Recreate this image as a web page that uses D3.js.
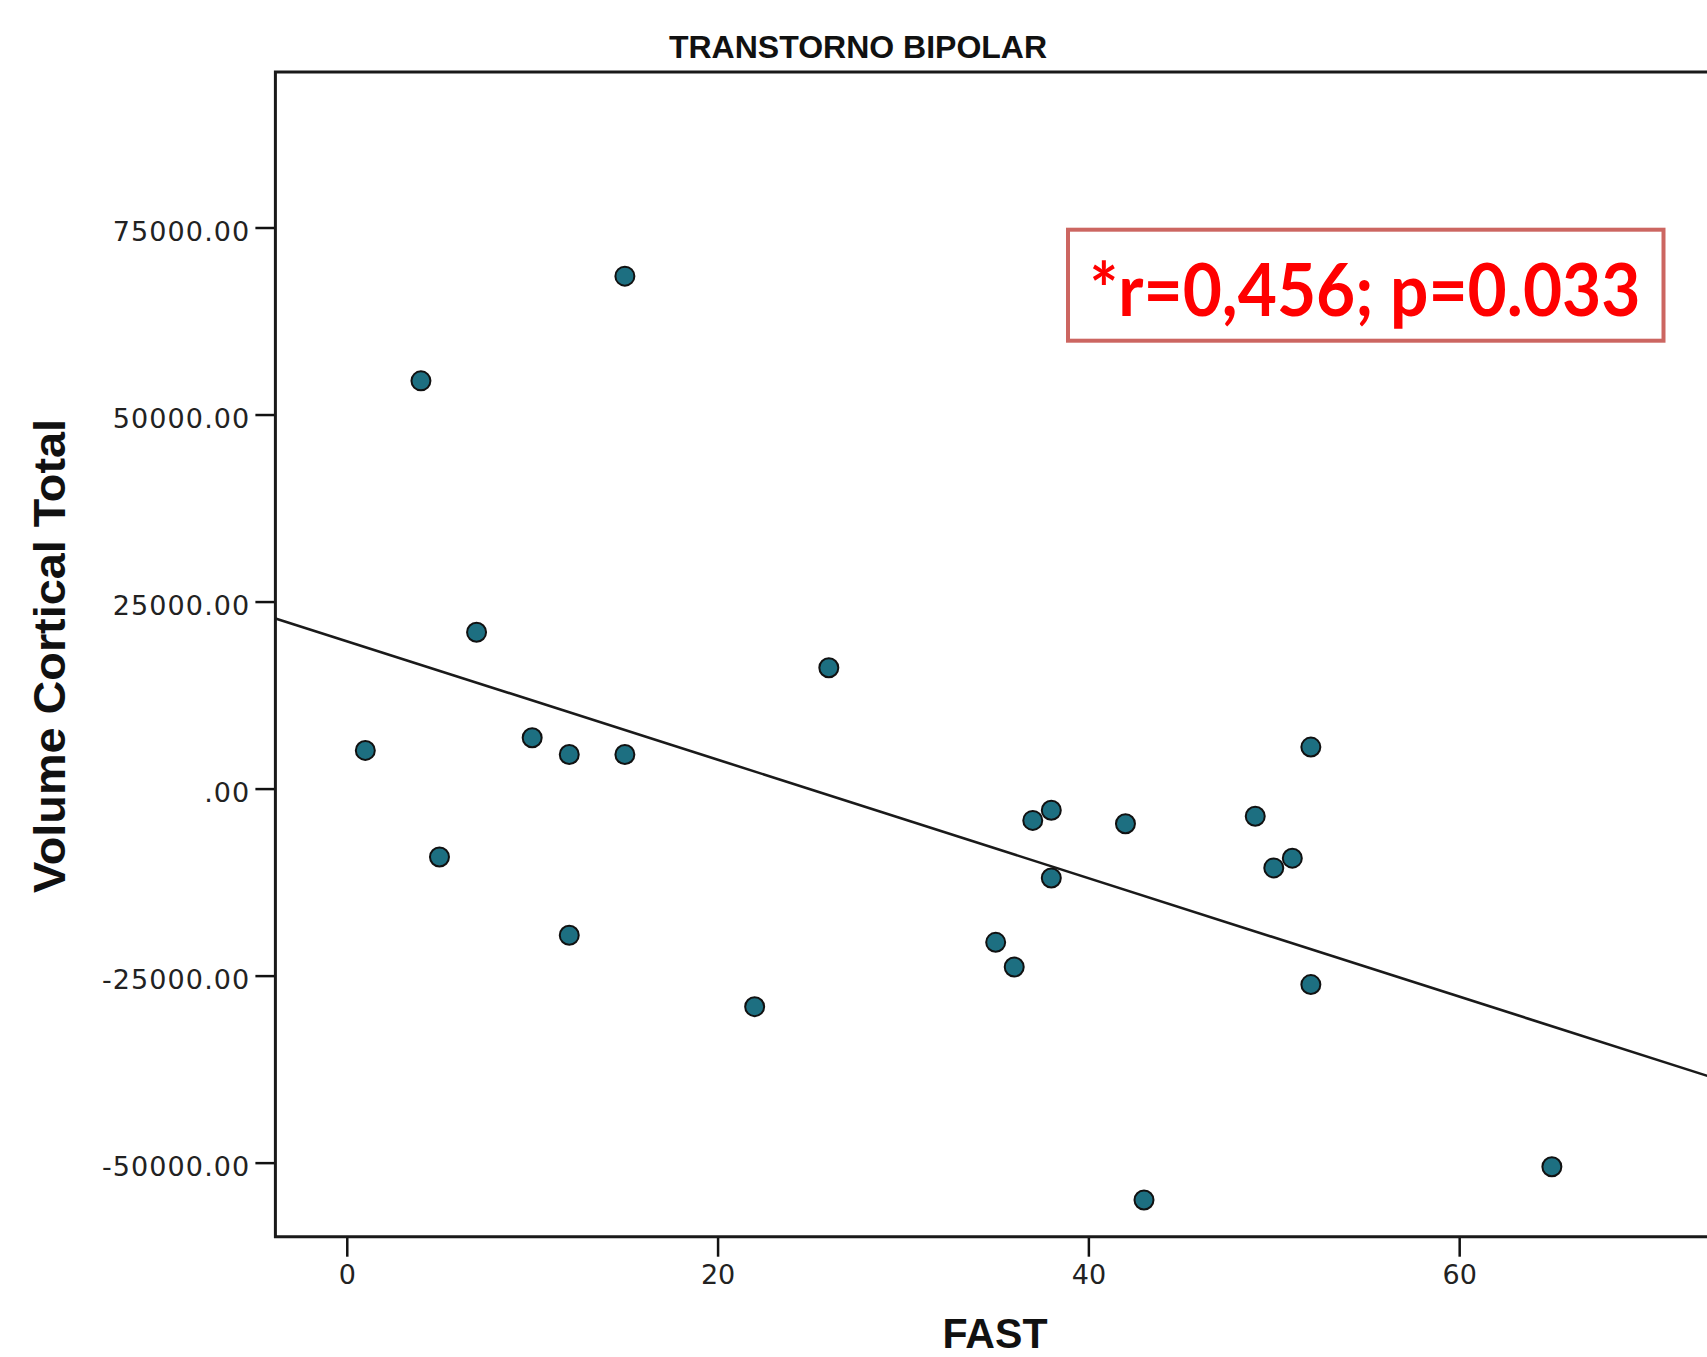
<!DOCTYPE html>
<html>
<head>
<meta charset="utf-8">
<script src="https://cdn.jsdelivr.net/npm/d3@7"></script>
<style>
  body { margin: 0; background: #fff; }
</style>
</head>
<body>
<div id="chart"></div>
<script>
// FAST score vs total cortical volume (bipolar group)
const fast = [1, 4, 5, 7, 10, 12, 12, 15, 15, 22, 26, 35, 36, 37, 38, 38, 42, 43, 49, 50, 51, 52, 52, 65]
const volume = [5100, 54500, -9150, 20900, 6800, 4550, -19600, 68500, 4550, -29150, 16150, -20550,
    -23850, -4250, -2900, -11950, -4700, -55000, -3700, -10600, -9300, 5550, -26200, -50550]
const xTicks = [0, 20, 40, 60]
const yTicks = [-50000, -25000, 0, 25000, 50000, 75000]
const title = 'TRANSTORNO BIPOLAR'
const xLabel = 'FAST'
const yLabel = 'Volume Cortical Total'
const note = '*r=0,456; p=0.033'

const width = 1707
const height = 1357
const plotLeft = 275.4, plotTop = 71.9, plotBottom = 1236.7

const points = fast.map((d, i) => ({ x: d, y: volume[i] }))

const x = d3.scaleLinear().domain([-3.85, 75]).range([plotLeft, plotLeft + 78.85 * 18.54])
const y = d3.scaleLinear().domain([-59900, 95800]).range([plotBottom, plotTop])

// least squares fit
const mx = d3.mean(points, d => d.x)
const my = d3.mean(points, d => d.y)
const slope = d3.sum(points, d => (d.x - mx) * (d.y - my)) / d3.sum(points, d => (d.x - mx) ** 2)
const intercept = my - slope * mx
const fitLine = x.domain().map(v => [v, intercept + slope * v])

const svg = d3.select('#chart').append('svg')
    .attr('width', width).attr('height', height)

svg.append('clipPath').attr('id', 'plot')
    .append('rect')
    .attr('x', plotLeft).attr('y', plotTop)
    .attr('width', width - plotLeft).attr('height', plotBottom - plotTop)

svg.append('text')
    .attr('x', 858).attr('y', 57.5)
    .attr('text-anchor', 'middle')
    .style('font', 'bold 32px "Liberation Sans", Arial, sans-serif')
    .style('fill', '#111')
    .text(title)

const yAxis = svg.append('g')
    .attr('transform', `translate(${plotLeft},0)`)
    .call(d3.axisLeft(y).tickValues(yTicks).tickSize(20).tickPadding(5)
        .tickFormat(v => v === 0 ? '.00' : v.toFixed(2)))
yAxis.select('.domain').remove()
yAxis.selectAll('line').attr('stroke', '#111').attr('stroke-width', 2.5)
yAxis.selectAll('text')
    .attr('dy', '0.47em')
    .style('font', '27px "DejaVu Sans", Verdana, sans-serif')
    .style('letter-spacing', '1.1px')
    .style('fill', '#222')

const xAxis = svg.append('g')
    .attr('transform', `translate(0,${plotBottom})`)
    .call(d3.axisBottom(x).tickValues(xTicks).tickSize(20).tickPadding(8))
xAxis.select('.domain').remove()
xAxis.selectAll('line').attr('stroke', '#111').attr('stroke-width', 2.5)
xAxis.selectAll('text')
    .style('font', '27px "DejaVu Sans", Verdana, sans-serif')
    .style('fill', '#222')

// frame: top, left, bottom (right edge runs off the picture)
svg.append('path')
    .attr('d', `M${width},${plotTop}H${plotLeft}V${plotBottom}H${width}`)
    .attr('fill', 'none')
    .attr('stroke', '#1a1a1a')
    .attr('stroke-width', 3)

svg.append('path')
    .datum(fitLine)
    .attr('clip-path', 'url(#plot)')
    .attr('d', d3.line().x(d => x(d[0])).y(d => y(d[1])))
    .attr('fill', 'none')
    .attr('stroke', '#1a1a1a')
    .attr('stroke-width', 2.6)

svg.append('g')
    .selectAll('circle')
    .data(points)
    .join('circle')
    .attr('cx', d => x(d.x))
    .attr('cy', d => y(d.y))
    .attr('r', 9.5)
    .attr('fill', '#1d6f81')
    .attr('stroke', '#111')
    .attr('stroke-width', 2)

svg.append('rect')
    .attr('x', 1068).attr('y', 229.7)
    .attr('width', 595.5).attr('height', 111)
    .attr('fill', '#fff')
    .attr('stroke', '#cc6661')
    .attr('stroke-width', 4)

svg.append('text')
    .attr('x', 1365).attr('y', 316)
    .attr('text-anchor', 'middle')
    .attr('textLength', 551)
    .attr('lengthAdjust', 'spacingAndGlyphs')
    .style('font', 'bold 72px Lato, "Open Sans", sans-serif')
    .style('fill', '#ff0000')
    .text(note)

svg.append('text')
    .attr('x', 995).attr('y', 1348)
    .attr('text-anchor', 'middle')
    .attr('textLength', 105)
    .attr('lengthAdjust', 'spacingAndGlyphs')
    .style('font', 'bold 43px "Liberation Sans", Arial, sans-serif')
    .style('fill', '#111')
    .text(xLabel)

svg.append('text')
    .attr('transform', 'translate(65,656) rotate(-90)')
    .attr('text-anchor', 'middle')
    .attr('textLength', 474)
    .attr('lengthAdjust', 'spacingAndGlyphs')
    .style('font', 'bold 45px "Liberation Sans", Arial, sans-serif')
    .style('fill', '#111')
    .text(yLabel)
</script>
</body>
</html>
